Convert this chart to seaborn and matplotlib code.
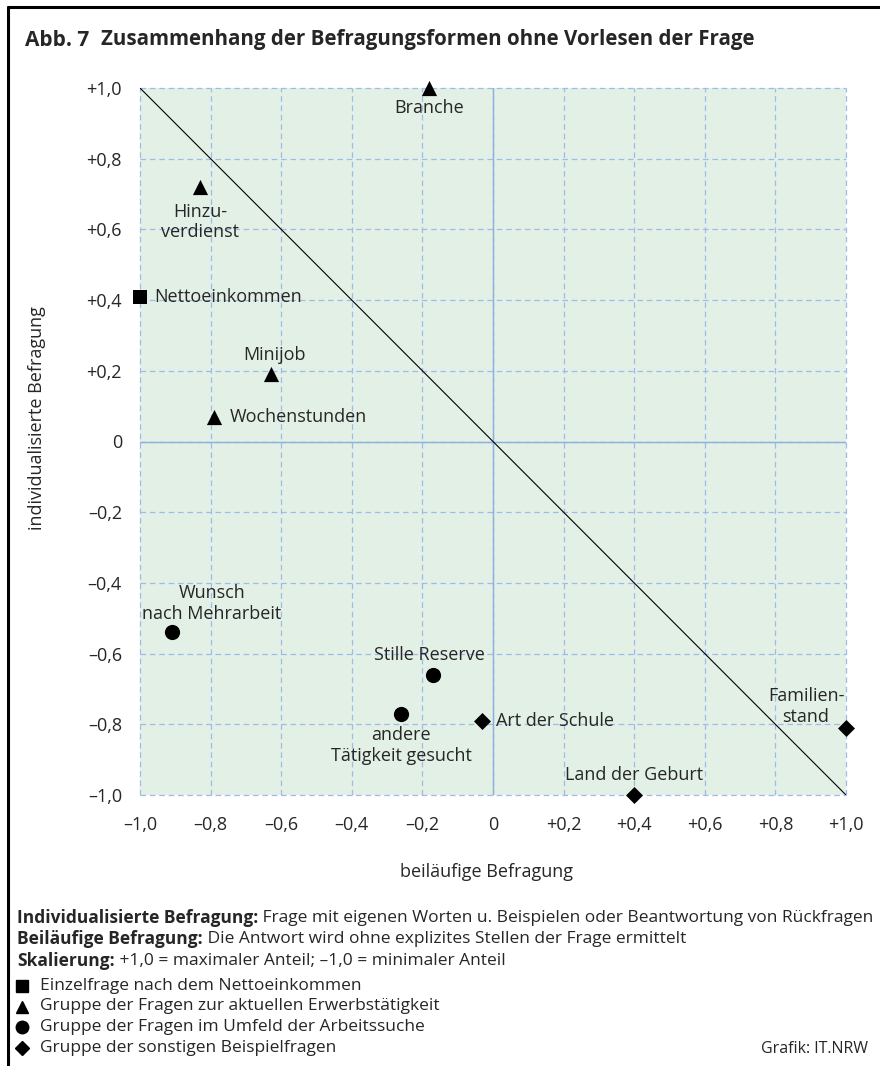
import matplotlib
matplotlib.use("Agg")
import matplotlib.pyplot as plt
import pandas as pd
import seaborn as sns
from matplotlib.lines import Line2D

# data
names = ["Branche", "Hinzu-\nverdienst", "Nettoeinkommen", "Minijob", "Wochenstunden",
         "Wunsch\nnach Mehrarbeit", "Stille Reserve", "andere\nTätigkeit gesucht",
         "Art der Schule", "Land der Geburt", "Familien-\nstand"]
beilaeufig = [-0.18, -0.83, -1.0, -0.63, -0.79, -0.91, -0.17, -0.26, -0.03, 0.40, 1.0]
individuell = [1.0, 0.72, 0.41, 0.19, 0.07, -0.54, -0.66, -0.77, -0.79, -1.0, -0.81]
gruppe = ["Erwerb", "Erwerb", "Einzel", "Erwerb", "Erwerb",
          "Suche", "Suche", "Suche", "Sonst", "Sonst", "Sonst"]

ticks = [-1.0, -0.8, -0.6, -0.4, -0.2, 0.0, 0.2, 0.4, 0.6, 0.8, 1.0]
tick_labels = ["–1,0", "–0,8", "–0,6", "–0,4", "–0,2", "0",
               "+0,2", "+0,4", "+0,6", "+0,8", "+1,0"]

legend_text = ["Einzelfrage nach dem Nettoeinkommen",
               "Gruppe der Fragen zur aktuellen Erwerbstätigkeit",
               "Gruppe der Fragen im Umfeld der Arbeitssuche",
               "Gruppe der sonstigen Beispielfragen"]
legend_groups = ["Einzel", "Erwerb", "Suche", "Sonst"]

# label offsets in pixels relative to marker, plus alignment
label_pos = [(0, -20, "center"), (0, -35, "center"), (14, 0, "left"), (4, 19, "center"),
             (16, 0, "left"), (40, 29, "center"), (-4, 20, "center"), (0, -32, "center"),
             (14, 0, "left"), (0, 20, "center"), (-40, 21, "center")]

marker_map = {"Einzel": "s", "Erwerb": "^", "Suche": "o", "Sonst": "D"}
size_map = {"Einzel": 100, "Erwerb": 120, "Suche": 120, "Sonst": 75}

df = pd.DataFrame({"x": beilaeufig, "y": individuell, "gruppe": gruppe, "name": names})

sns.set_style("white")
plt.rcParams["font.family"] = ["Open Sans", "DejaVu Sans"]
plt.rcParams["font.size"] = 13

W, H = 880, 1066
fig = plt.figure(figsize=(W / 100, H / 100), dpi=100)
ax = fig.add_axes([140 / W, 1 - 795 / H, 706 / W, 707 / H])
ax.set_facecolor("#e3f0e6")

ax.set_xlim(-1, 1)
ax.set_ylim(-1, 1)
ax.set_xticks(ticks)
ax.set_yticks(ticks)
ax.set_xticklabels(tick_labels, fontsize=13)
ax.set_yticklabels(tick_labels, fontsize=13)
ax.tick_params(length=0, pad=13)
ax.tick_params(axis="x", pad=15)
for s in ax.spines.values():
    s.set_visible(False)

ax.set_axisbelow(True)
ax.grid(True, color="#9fbbea", linestyle=(0, (4.5, 3)), linewidth=0.9)
for gl in ax.get_xgridlines() + ax.get_ygridlines():
    gl.set_clip_on(False)
ax.axhline(0, color="#8eaee0", lw=1.0, zorder=1)
ax.axvline(0, color="#8eaee0", lw=1.0, zorder=1)

# diagonal reference line
ax.plot([-1, 1], [1, -1], color="black", lw=0.8, zorder=2)

for g in legend_groups:
    sub = df[df["gruppe"] == g]
    sns.scatterplot(data=sub, x="x", y="y", marker=marker_map[g], color="black",
                    s=size_map[g], linewidth=0, ax=ax, legend=False, clip_on=False, zorder=5)

for (_, row), (dx, dy, ha) in zip(df.iterrows(), label_pos):
    ax.annotate(row["name"], (row["x"], row["y"]), xytext=(dx, dy),
                textcoords="offset pixels", ha=ha, va="center", fontsize=13,
                linespacing=1.2, annotation_clip=False, zorder=6)

ax.set_xlabel("")
ax.set_ylabel("")
fig.text(486 / W, 1 - 872 / H, "beiläufige Befragung", fontsize=13, ha="center", va="center")
fig.text(37 / W, 1 - 418 / H, "individualisierte Befragung", fontsize=13, rotation=90,
         ha="center", va="center")

# frame (top and left only)
fig.add_artist(Line2D([8 / W, 8 / W], [0, 1 - 7 / H], color="black", lw=2.2,
                      transform=fig.transFigure))
fig.add_artist(Line2D([8 / W, 1], [1 - 7 / H, 1 - 7 / H], color="black", lw=2.2,
                      transform=fig.transFigure))

fig.text(25 / W, 1 - 40 / H, "Abb. 7", fontsize=15, fontweight="bold", va="center")
fig.text(101 / W, 1 - 40 / H, "Zusammenhang der Befragungsformen ohne Vorlesen der Frage",
         fontsize=14.8, fontweight="bold", va="center")

# footer notes: bold head + regular text
fig.canvas.draw()
renderer = fig.canvas.get_renderer()
notes = [("Individualisierte Befragung:", " Frage mit eigenen Worten u. Beispielen oder Beantwortung von Rückfragen", 918),
         ("Beiläufige Befragung:", " Die Antwort wird ohne explizites Stellen der Frage ermittelt", 939),
         ("Skalierung:", " +1,0 = maximaler Anteil; –1,0 = minimaler Anteil", 961)]
for head, body, ypx in notes:
    t = fig.text(17 / W, 1 - ypx / H, head, fontsize=12.5, fontweight="bold", va="center")
    bb = t.get_window_extent(renderer)
    fig.text(bb.x1 / W, 1 - ypx / H, body, fontsize=12.5, va="center")

for i, (g, txt) in enumerate(zip(legend_groups, legend_text)):
    ypx = 986 + i * 20.5
    ms = {"Einzel": 8, "Erwerb": 8.5, "Suche": 9, "Sonst": 7.5}[g]
    fig.add_artist(Line2D([22 / W], [1 - ypx / H], marker=marker_map[g], color="black",
                          markersize=ms, linestyle="none", transform=fig.transFigure))
    fig.text(40 / W, 1 - ypx / H, txt, fontsize=12.5, va="center")

fig.text(868 / W, 1 - 1049 / H, "Grafik: IT.NRW", fontsize=11.5, ha="right", va="center")

fig.savefig("out.png", dpi=100)
